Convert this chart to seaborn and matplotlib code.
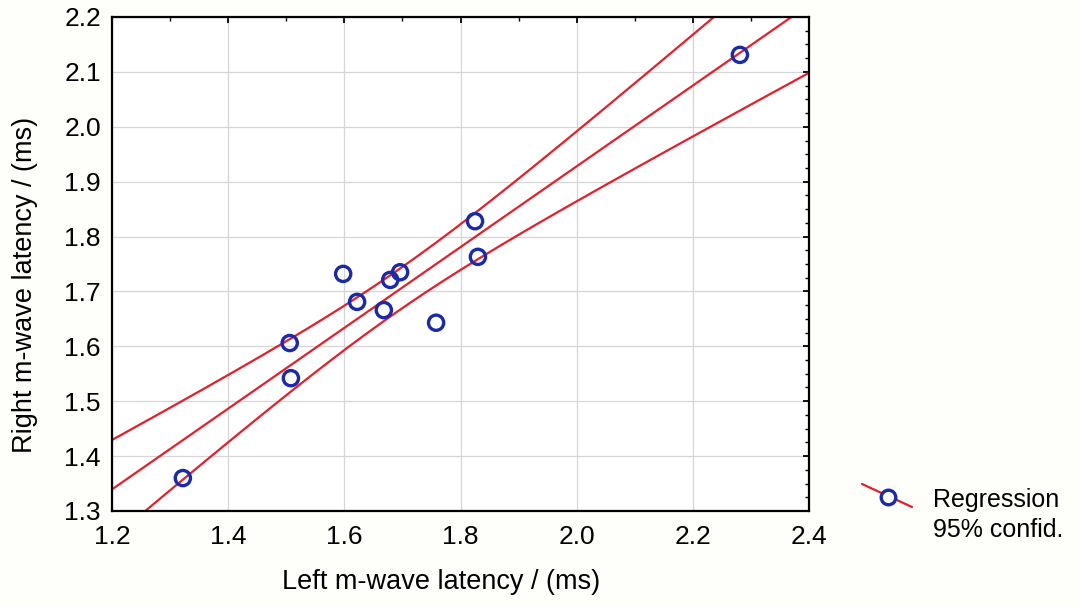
import numpy as np
import pandas as pd
import matplotlib
matplotlib.use("Agg")
import matplotlib.pyplot as plt
import seaborn as sns
from matplotlib.ticker import MultipleLocator
from matplotlib.lines import Line2D

left_latency = [1.322, 1.506, 1.508, 1.598, 1.622, 1.668, 1.679, 1.696, 1.758, 1.825, 1.830, 2.281]
right_latency = [1.360, 1.606, 1.542, 1.732, 1.681, 1.666, 1.721, 1.735, 1.643, 1.828, 1.763, 2.131]
x_ticks = [1.2, 1.4, 1.6, 1.8, 2.0, 2.2, 2.4]
y_ticks = [1.3, 1.4, 1.5, 1.6, 1.7, 1.8, 1.9, 2.0, 2.1, 2.2]
legend_labels = ["Regression", "95% confid."]

sns.set_theme(style="white")
plt.rcParams['font.family'] = ['Liberation Sans', 'DejaVu Sans']
plt.rcParams['text.color'] = 'black'
plt.rcParams['axes.labelcolor'] = 'black'

df = pd.DataFrame({"x": left_latency, "y": right_latency})

# Linear regression with analytic 95% confidence band for the mean
x = np.asarray(left_latency)
y = np.asarray(right_latency)
n = len(x)
b, a = np.polyfit(x, y, 1)
resid = y - (a + b * x)
s = np.sqrt(np.sum(resid ** 2) / (n - 2))
tval = 2.228  # t(0.975, df=10)
xg = np.linspace(x_ticks[0], x_ticks[-1], 300)
yg = a + b * xg
se = s * np.sqrt(1.0 / n + (xg - x.mean()) ** 2 / np.sum((x - x.mean()) ** 2))
fit = pd.DataFrame({"x": xg, "fit": yg, "lo": yg - tval * se, "hi": yg + tval * se})

bg = "#fefefb"
fig = plt.figure(figsize=(10.8, 6.06), dpi=100, facecolor=bg)
ax = fig.add_axes([112 / 1080, 1 - 511 / 606, (809 - 112) / 1080, (511 - 17) / 606])
ax.set_facecolor("white")

red = "#e3202b"
blue = "#1a2aa8"
for col in ["fit", "lo", "hi"]:
    sns.lineplot(data=fit, x="x", y=col, ax=ax, color=red, lw=1.6, legend=False)
sns.scatterplot(data=df, x="x", y="y", ax=ax, marker="o", s=120,
                facecolor="none", edgecolor=blue, linewidth=2.4, zorder=5, legend=False)

ax.set_xlim(1.2, 2.4)
ax.set_ylim(1.3, 2.2)
ax.set_xticks(x_ticks)
ax.set_yticks(y_ticks)
ax.set_xticklabels([f"{v:.1f}" for v in x_ticks])
ax.set_yticklabels([f"{v:.1f}" for v in y_ticks])
ax.xaxis.set_minor_locator(MultipleLocator(0.1))
ax.yaxis.set_minor_locator(MultipleLocator(0.025))
ax.grid(True, which="major", color="#d6d6d6", lw=0.9)
ax.tick_params(which="both", direction="in", top=True, right=True, colors="black",
               labelsize=19)
ax.tick_params(axis="y", pad=8)
ax.tick_params(axis="x", pad=10)
ax.tick_params(which="major", length=4, width=1.3)
ax.tick_params(which="minor", length=3, width=1.0)
for sp in ax.spines.values():
    sp.set_color("black")
    sp.set_linewidth(1.6)
ax.set_xlabel("Left m-wave latency / (ms)", fontsize=19.5)
ax.set_ylabel("Right m-wave latency / (ms)", fontsize=19.5)
ax.xaxis.set_label_coords(0.472, -0.117)
ax.yaxis.set_label_coords(-0.106, 0.457)

# Legend (drawn in figure pixel coordinates)
W, H = 1080, 606
fig.add_artist(Line2D([862 / W, 912 / W], [1 - 484 / H, 1 - 507 / H], color=red, lw=1.6,
                      transform=fig.transFigure))
fig.add_artist(Line2D([888 / W], [1 - 497 / H], marker="o", markersize=10.5,
                      markerfacecolor="white", markeredgecolor=blue, markeredgewidth=2.4,
                      linestyle="none", transform=fig.transFigure))
fig.text(933 / W, 1 - 507 / H, legend_labels[0], fontsize=18, va="baseline", ha="left")
fig.text(933 / W, 1 - 537 / H, legend_labels[1], fontsize=18, va="baseline", ha="left")

fig.savefig("out.png", dpi=100, facecolor=bg)
